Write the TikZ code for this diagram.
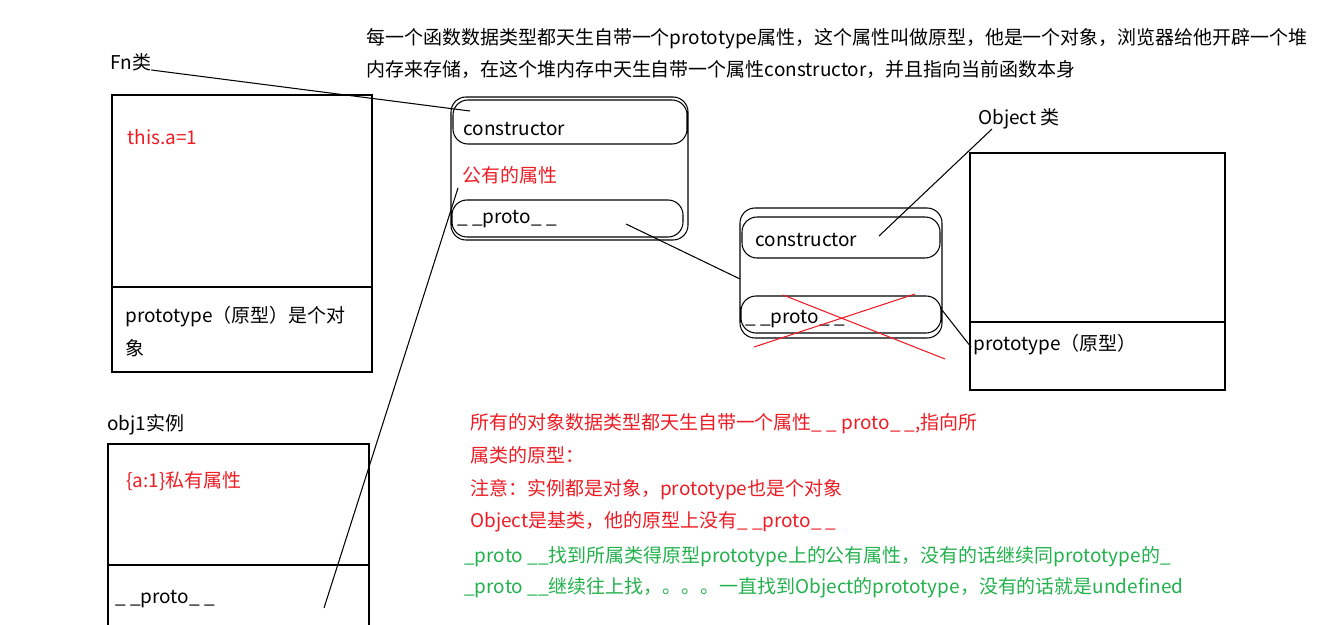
\documentclass[tikz,border=0pt]{standalone}
\usepackage{fontspec}
\newfontfamily\cjk{Noto Sans CJK SC}
\usetikzlibrary{positioning}
\definecolor{pred}{RGB}{237,28,36}
\definecolor{pgreen}{RGB}{34,177,76}
\tikzset{
    txt/.style={anchor=base west, inner sep=0pt, font=\cjk\fontsize{10.8}{13}\selectfont},
    redtxt/.style={txt, text=pred},
    greentxt/.style={txt, text=pgreen},
    pen/.style={line width=0.6pt},
    redpen/.style={line width=0.6pt, draw=pred}
}

\begin{document}
\begin{tikzpicture}[x=0.02cm, y=-0.02cm]
                    \useasboundingbox (0, 0) rectangle (1325, 625);

                    \node[txt] (note1) at (366, 45) {每一个函数数据类型都天生自带一个prototype属性，这个属性叫做原型，他是一个对象，浏览器给他开辟一个堆};
                    \node[txt] (note2) at (366, 77) {内存来存储，在这个堆内存中天生自带一个属性constructor，并且指向当前函数本身};

                    \node[txt] (fnlabel) at (110, 70) {Fn类};
                    \node[redtxt] (thisa) at (127, 145) {this.a=1};
                    \node[txt] (fnproto) at (125, 322) {prototype（原型）是个对};
                    \node[txt] (fnproto2) at (125, 355) {象};

                    \node[txt] (objlabel) at (107, 430) {obj1实例};
                    \node[redtxt] (priv) at (126, 487) {\{a:1\}私有属性};
                    \node[txt] (objproto) at (115, 603) {\_\ \_proto\_\ \_};

                    \node[txt] (ctor) at (463, 135) {constructor};
                    \node[redtxt] (pub) at (462, 182) {公有的属性};
                    \node[txt] (midproto) at (457, 223) {\_\ \_proto\_\ \_};

                    \node[txt] (octor) at (755, 246) {constructor};
                    \node[txt] (oproto) at (745, 323) {\_\ \_proto\_\ \_};

                    \node[txt] (olabel) at (978, 125) {Object 类};
                    \node[txt] (oprototype) at (973, 350) {prototype（原型）};

                    \node[redtxt] (r1) at (470, 429) {所有的对象数据类型都天生自带一个属性\_\ \_\ proto\_\ \_,指向所};
                    \node[redtxt] (r2) at (470, 462) {属类的原型：};
                    \node[redtxt] (r3) at (470, 495) {注意：实例都是对象，prototype也是个对象};
                    \node[redtxt] (r4) at (470, 527) {Object是基类，他的原型上没有\_\ \_proto\_\ \_};
                    \node[greentxt] (g1) at (464, 562) {\_proto \_\_找到所属类得原型prototype上的公有属性，没有的话继续同prototype的\_};
                    \node[greentxt] (g2) at (464, 593) {\_proto \_\_继续往上找，。。。一直找到Object的prototype，没有的话就是undefined};

                    % boxes
                    \draw[pen]
                    (112, 95) rectangle (372, 372)
                    (112, 287) -- (372, 287)
                    (108, 640) -- (108, 444) -- (369, 444) -- (369, 640)
                    (108, 565) -- (369, 565)
                    (970, 153) rectangle (1225, 390)
                    (970, 322) -- (1225, 322);

                    \draw[pen, rounded corners=0.3cm]
                    (451, 97) rectangle (688, 240)
                    (453, 100) rectangle (687, 144)
                    (452, 200) rectangle (683, 237)
                    (740, 208) rectangle (942, 338)
                    (742, 217) rectangle (940, 258)
                    (741, 296) rectangle (941, 333);

                    \coordinate (fnend) at (470, 111);
                    \coordinate (pubend) at (458, 188);
                    \coordinate (objend) at (324, 608);
                    \coordinate (midptr) at (626, 224);
                    \coordinate (oleft) at (740, 279);
                    \coordinate (olabelend) at (992, 129);
                    \coordinate (octorend) at (879, 236);
                    \coordinate (oright) at (942, 310);
                    \coordinate (oprotoend) at (971, 347);

                    \draw[pen]
                    (fnlabel.base east) -- (fnend)
                    (pubend) -- (objend)
                    (midptr) -- (oleft)
                    (olabelend) -- (octorend)
                    (oright) -- (oprotoend);

                    \coordinate (x1a) at (783, 295);
                    \coordinate (x1b) at (945, 359);
                    \coordinate (x2a) at (754, 347);
                    \coordinate (x2b) at (915, 294);
                    \draw[redpen] (x1a) -- (x1b) (x2a) -- (x2b);
                \end{tikzpicture}
\end{document}
